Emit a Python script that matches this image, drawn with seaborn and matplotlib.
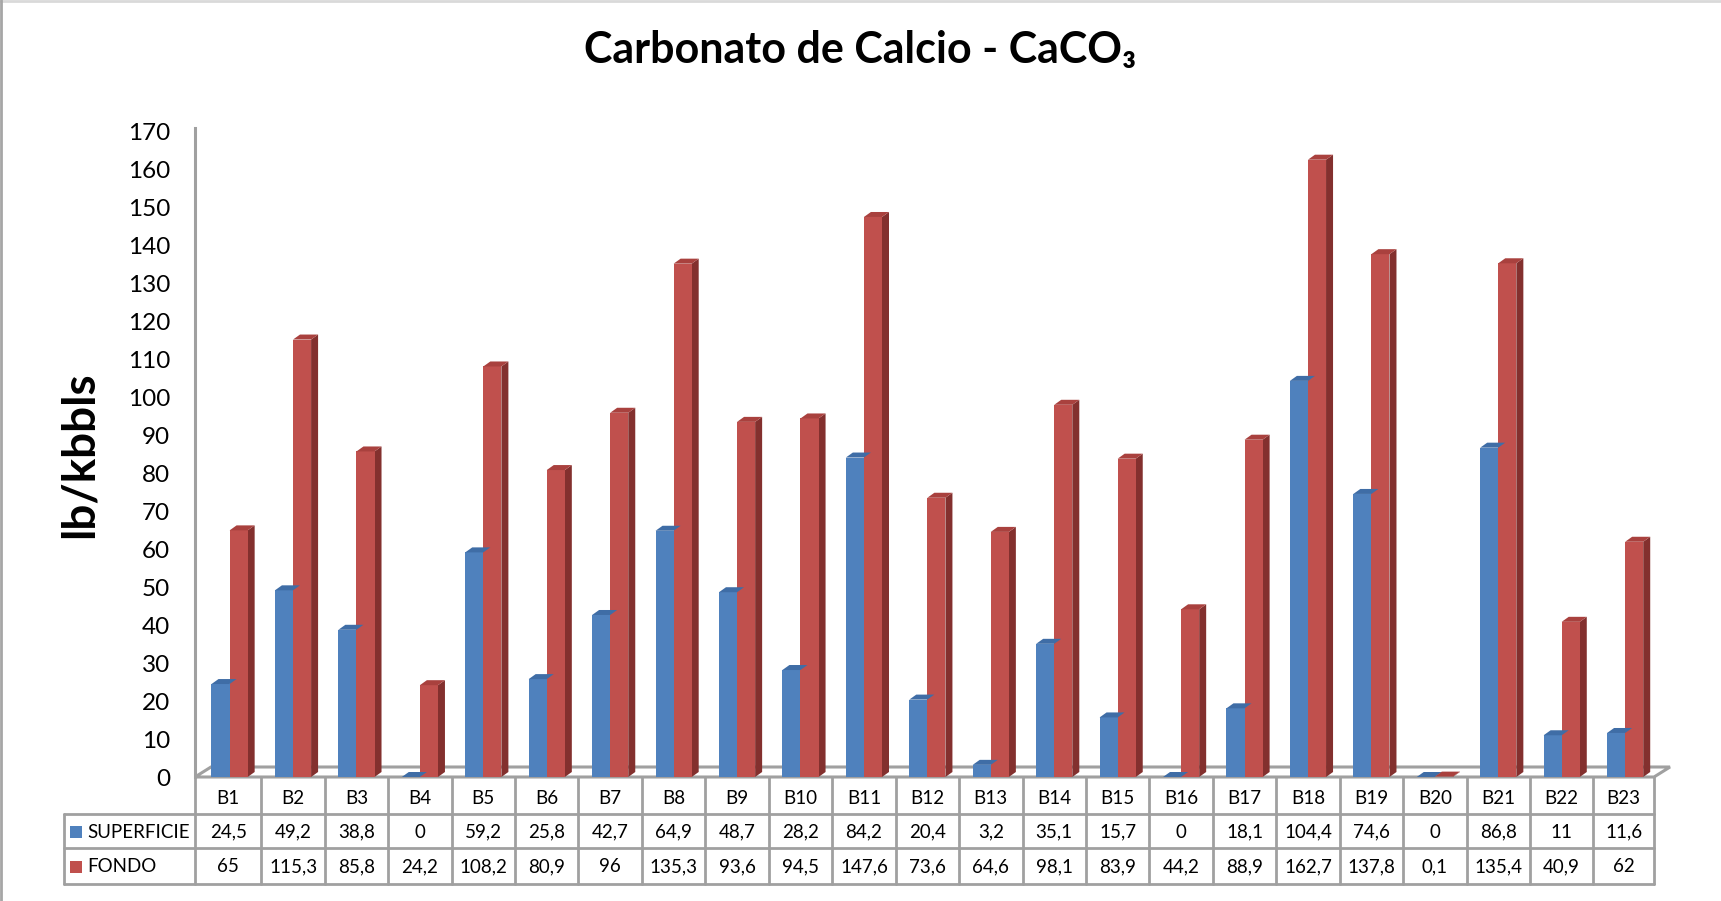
import numpy as np
import pandas as pd
import seaborn as sns
import matplotlib
matplotlib.use("Agg")
import matplotlib.pyplot as plt
from matplotlib.patches import Polygon
from matplotlib.lines import Line2D

# --- data -------------------------------------------------------------
pozos = ["B1", "B2", "B3", "B4", "B5", "B6", "B7", "B8", "B9", "B10", "B11", "B12",
         "B13", "B14", "B15", "B16", "B17", "B18", "B19", "B20", "B21", "B22", "B23"]
superficie = [24.5, 49.2, 38.8, 0, 59.2, 25.8, 42.7, 64.9, 48.7, 28.2, 84.2, 20.4,
              3.2, 35.1, 15.7, 0, 18.1, 104.4, 74.6, 0, 86.8, 11, 11.6]
fondo = [65, 115.3, 85.8, 24.2, 108.2, 80.9, 96, 135.3, 93.6, 94.5, 147.6, 73.6,
         64.6, 98.1, 83.9, 44.2, 88.9, 162.7, 137.8, 0.1, 135.4, 40.9, 62]
series = ["SUPERFICIE", "FONDO"]
y_ticks = list(range(0, 171, 10))

df = pd.DataFrame({
    "pozo": pozos * 2,
    "serie": [series[0]] * len(pozos) + [series[1]] * len(pozos),
    "valor": superficie + fondo,
})

front = {"SUPERFICIE": "#4F81BD", "FONDO": "#C0504D"}
side = {"SUPERFICIE": "#2F5889", "FONDO": "#83302E"}
top = {"SUPERFICIE": "#3F6DA6", "FONDO": "#A9413E"}
grid_gray = "#A0A0A0"

def fmt(v):
    s = f"{v:.1f}".rstrip("0").rstrip(".")
    return s.replace(".", ",")

# --- figure -----------------------------------------------------------
W, H = 1721, 901
sns.set_theme(style="white")
plt.rcParams["font.family"] = ["Lato", "DejaVu Sans"]
plt.rcParams["text.color"] = "black"
fig = plt.figure(figsize=(W / 100, H / 100), dpi=100)
fig.patch.set_facecolor("white")

x_left, x_right = 195, 1654
y_zero, y_top = 777, 132
ax = fig.add_axes([x_left / W, 1 - y_zero / H, (x_right - x_left) / W, (y_zero - y_top) / H])
ax.set_facecolor("none")

sns.barplot(data=df, x="pozo", y="valor", hue="serie", palette=front,
            hue_order=series, order=pozos, width=0.57, saturation=1,
            legend=False, ax=ax, zorder=3, linewidth=0)

x0, x1 = -0.545, 22.455
ax.set_xlim(x0, x1)
ax.set_ylim(0, 170)
ax.set_yticks(y_ticks)
ax.set_yticklabels([str(t) for t in y_ticks], fontsize=17.5, color="black")
ax.tick_params(axis="y", length=0, pad=18)
ax.set_xticks([])
ax.set_xlabel("")
ax.set_ylabel("")
for s in ["top", "right", "bottom"]:
    ax.spines[s].set_visible(False)
ax.spines["left"].set_color(grid_gray)
ax.spines["left"].set_linewidth(2.2)
ax.spines["left"].set_bounds(0, 171)

# pixel -> data scale for the depth faces
col_px = (x_right - x_left) / (x1 - x0)
unit_px = (y_zero - y_top) / 170.0
dx, dy = 7 / col_px, 5 / unit_px

# floor parallelogram
fdx, fdy = 16 / col_px, 10 / unit_px
floor = Polygon([(x0, 0), (x1, 0), (x1 + fdx, fdy), (x0 + fdx, fdy)], closed=True,
                facecolor="white", edgecolor=grid_gray, linewidth=2.2,
                clip_on=False, zorder=1)
ax.add_patch(floor)

# depth faces on every bar
for i, patch in enumerate(ax.patches[:2 * len(pozos)]):
    serie = series[i // len(pozos)]
    bx, bw, bh = patch.get_x(), patch.get_width(), patch.get_height()
    if not np.isfinite(bh):
        continue
    ax.add_patch(Polygon([(bx + bw, 0), (bx + bw + dx, dy), (bx + bw + dx, bh + dy), (bx + bw, bh)],
                         closed=True, facecolor=side[serie], edgecolor="none",
                         zorder=2.5, clip_on=False))
    ax.add_patch(Polygon([(bx, bh), (bx + bw, bh), (bx + bw + dx, bh + dy), (bx + dx, bh + dy)],
                         closed=True, facecolor=top[serie], edgecolor="none",
                         zorder=3.5, clip_on=False))

# --- data table under the plot ---------------------------------------
fig.canvas.draw()

def fx(px):
    return px / W

def fy(py):
    return 1 - py / H

col_edges = [ax.transData.transform((k - 0.5, 0))[0] for k in range(len(pozos) + 1)]
col_edges[0] = x_left
col_edges[-1] = x_right
row_y = [y_zero + 3, 814, 848, 884]
lab_left = 64
lw = 2.0
tfs = 13.5

def hline(xa, xb, y):
    fig.add_artist(Line2D([fx(xa), fx(xb)], [fy(y), fy(y)], color=grid_gray, lw=lw))

def vline(x, ya, yb):
    fig.add_artist(Line2D([fx(x), fx(x)], [fy(ya), fy(yb)], color=grid_gray, lw=lw))

hline(lab_left, x_right, row_y[1])
hline(lab_left, x_right, row_y[2])
hline(lab_left, x_right, row_y[3])
for k, xe in enumerate(col_edges):
    vline(xe, y_zero, row_y[3])
vline(lab_left, row_y[1], row_y[3])

centers = [(col_edges[k] + col_edges[k + 1]) / 2 for k in range(len(pozos))]
for k, name in enumerate(pozos):
    fig.text(fx(centers[k]), fy((row_y[0] + row_y[1]) / 2 + 1), name,
             ha="center", va="center", fontsize=tfs)
for r, (vals, serie) in enumerate([(superficie, "SUPERFICIE"), (fondo, "FONDO")]):
    yc = (row_y[r + 1] + row_y[r + 2]) / 2 + 1
    for k, v in enumerate(vals):
        fig.text(fx(centers[k]), fy(yc), fmt(v), ha="center", va="center", fontsize=tfs)
    fig.add_artist(plt.Rectangle((fx(70), fy(yc + 6)), 12 / W, 12 / H,
                                 facecolor=front[serie], edgecolor="none",
                                 transform=fig.transFigure))
    fig.text(fx(87), fy(yc), serie, ha="left", va="center", fontsize=tfs)

# --- titles -----------------------------------------------------------
fig.text(fx(860), fy(50), "Carbonato de Calcio - CaCO₃", ha="center", va="center",
         fontsize=31, fontweight="bold", color="black")
fig.text(fx(80), fy(455), "lb/kbbls", ha="center", va="center", rotation=90,
         fontsize=33, fontweight="bold", color="black")

# chart-area frame
fig.add_artist(Line2D([0, 1], [1 - 1 / H, 1 - 1 / H], color="#D9D9D9", lw=2))
fig.add_artist(Line2D([1 / W, 1 / W], [0, 1], color="#A6A6A6", lw=2))

fig.savefig("out.png", dpi=100, facecolor="white")
